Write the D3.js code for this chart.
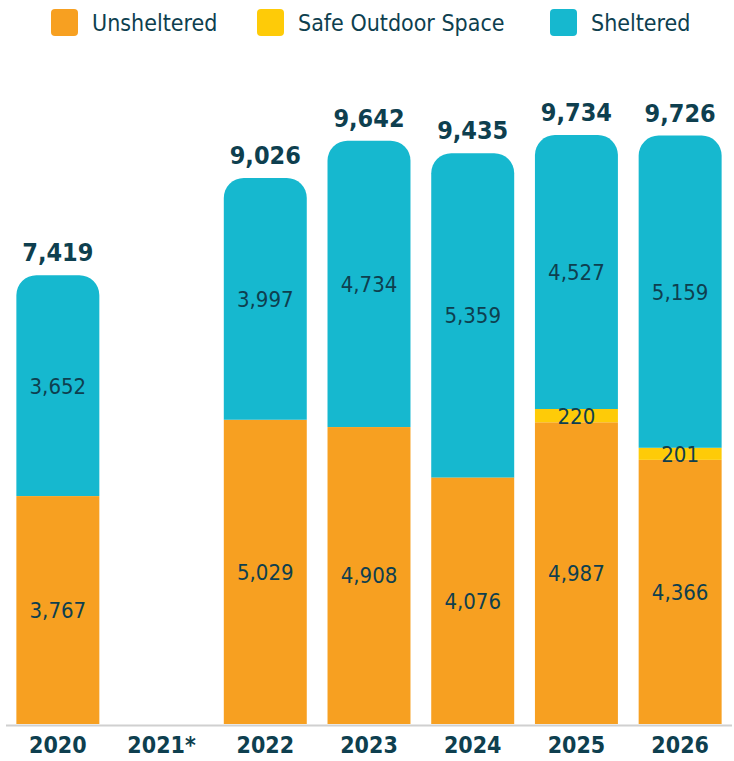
<!DOCTYPE html>
<html>
<head>
<meta charset="utf-8">
<script src="https://cdn.jsdelivr.net/npm/d3@7"></script>
<style>
  body { margin: 0; background: #fff; }
  text { font-family: "Liberation Sans Narrow", "DejaVu Sans Condensed", sans-serif; fill: #0e3f4f; }
</style>
</head>
<body>
<div id="viz"></div>
<script>
// data
const years = ["2020", "2021*", "2022", "2023", "2024", "2025", "2026"]
const unsheltered = [3767, null, 5029, 4908, 4076, 4987, 4366]
const safeOutdoor = [0, null, 0, 0, 0, 220, 201]
const sheltered = [3652, null, 3997, 4734, 5359, 4527, 5159]
const totals = [7419, null, 9026, 9642, 9435, 9734, 9726]

const seriesNames = ["Unsheltered", "Safe Outdoor Space", "Sheltered"]
const colors = ["#f7a021", "#fecb08", "#16b8cf"]

const width = 734, height = 761
const svg = d3.select("#viz").append("svg")
  .attr("width", width)
  .attr("height", height)

const x = d3.scaleBand()
  .domain(years)
  .range([6, 732])
  .paddingInner(0.2)
  .paddingOuter(0.1)

const y = d3.scaleLinear()
  .domain([0, 10000])
  .range([724, 119])

const rows = years.map((yr, i) => ({
  year: yr,
  vals: [unsheltered[i], safeOutdoor[i], sheltered[i]],
  total: totals[i]
})).filter(d => d.total != null)

const fmt = d3.format(",")
const r = 20

// bars
rows.forEach(d => {
  let base = 0
  const x0 = x(d.year), bw = x.bandwidth()
  d.vals.forEach((v, k) => {
    if (!v) return
    const y0 = y(base), y1 = y(base + v)
    base += v
    if (k === 2) {
      // top segment gets rounded corners
      const p = d3.path()
      p.moveTo(x0, y0)
      p.lineTo(x0, y1 + r)
      p.arcTo(x0, y1, x0 + r, y1, r)
      p.lineTo(x0 + bw - r, y1)
      p.arcTo(x0 + bw, y1, x0 + bw, y1 + r, r)
      p.lineTo(x0 + bw, y0)
      p.closePath()
      svg.append("path").attr("d", p.toString()).attr("fill", colors[k])
    } else {
      svg.append("rect")
        .attr("x", x0).attr("y", y1)
        .attr("width", bw).attr("height", y0 - y1)
        .attr("fill", colors[k])
    }
  })
})

// segment + total labels
rows.forEach(d => {
  let base = 0
  d.vals.forEach(v => {
    if (!v) return
    const mid = y(base + v / 2)
    base += v
    svg.append("text")
      .attr("x", x(d.year) + x.bandwidth() / 2)
      .attr("y", mid)
      .attr("dy", "0.36em")
      .attr("text-anchor", "middle")
      .style("font-size", "22px")
      .text(fmt(v))
  })
  svg.append("text")
    .attr("x", x(d.year) + x.bandwidth() / 2)
    .attr("y", y(d.total) - 14)
    .attr("text-anchor", "middle")
    .style("font-size", "25px")
    .style("font-weight", "bold")
    .text(fmt(d.total))
})

// axis
svg.append("line")
  .attr("x1", 6).attr("x2", 732)
  .attr("y1", 725.5).attr("y2", 725.5)
  .attr("stroke", "#d0d0d0")
  .attr("stroke-width", 2)

svg.selectAll(".yearLabel").data(years).enter().append("text")
  .attr("class", "yearLabel")
  .attr("x", d => x(d) + x.bandwidth() / 2)
  .attr("y", 753)
  .attr("text-anchor", "middle")
  .style("font-size", "23px")
  .style("font-weight", "bold")
  .text(d => d)

// legend
const legendX = [51, 257, 550]
const legend = svg.selectAll(".legend").data(seriesNames).enter().append("g")
  .attr("class", "legend")
  .attr("transform", (d, i) => `translate(${legendX[i]}, 9)`)
legend.append("rect")
  .attr("width", 27).attr("height", 27)
  .attr("rx", 4)
  .attr("fill", (d, i) => colors[i])
legend.append("text")
  .attr("x", 41)
  .attr("y", 13.5)
  .attr("dy", "0.36em")
  .style("font-size", "23px")
  .text(d => d)
</script>
</body>
</html>
